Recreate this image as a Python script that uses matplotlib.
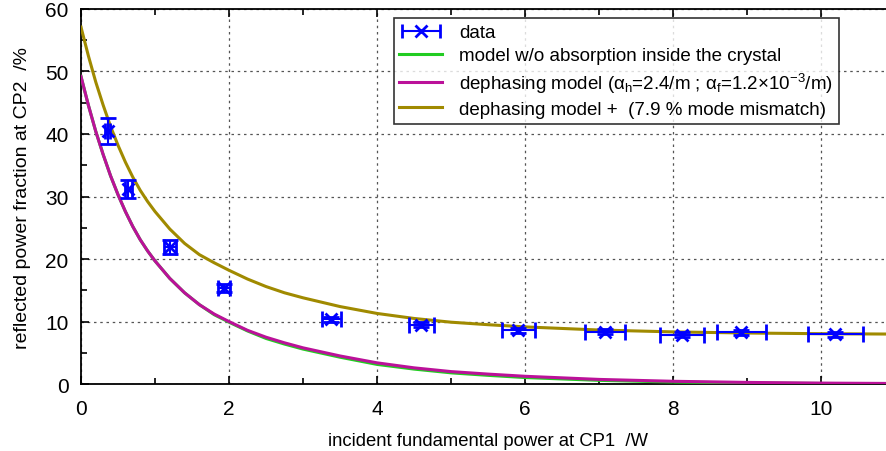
import matplotlib
matplotlib.use("Agg")
import matplotlib.pyplot as plt
from matplotlib.ticker import MultipleLocator
from matplotlib.legend_handler import HandlerErrorbar

plt.rcParams['font.family'] = ['Liberation Sans', 'DejaVu Sans']
plt.rcParams['mathtext.fontset'] = 'custom'
plt.rcParams['mathtext.rm'] = 'Liberation Sans'
plt.rcParams['mathtext.it'] = 'Liberation Sans'

# measured data (power /W, reflected fraction /%)
data_x = [0.36, 0.64, 1.20, 1.93, 3.38, 4.60, 5.91, 7.08, 8.12, 8.92, 10.19]
data_y = [40.5, 31.2, 21.9, 15.4, 10.4, 9.5, 8.6, 8.4, 7.9, 8.3, 8.0]
data_xerr = [0.03, 0.05, 0.08, 0.08, 0.13, 0.17, 0.22, 0.27, 0.30, 0.33, 0.37]
data_yerr = [2.1, 1.5, 1.1, 0.6, 0.4, 0.4, 0.4, 0.4, 0.4, 0.4, 0.4]

# model curves
model_x = [0, 0.1, 0.2, 0.3, 0.4, 0.5, 0.6, 0.7, 0.8, 0.9, 1.0, 1.2, 1.4, 1.6,
           1.8, 2.0, 2.25, 2.5, 2.75, 3.0, 3.5, 4.0, 4.5, 5.0, 5.5, 6.0, 7.0,
           8.0, 9.0, 10.0, 11.0]
noabs_y = [49.2, 44.6, 40.4, 36.7, 33.3, 30.3, 27.6, 25.2, 23.1, 21.3, 19.7,
           16.9, 14.6, 12.7, 11.1, 9.9, 8.5, 7.3, 6.4, 5.6, 4.3, 3.15, 2.4, 1.8,
           1.4, 1.05, 0.6, 0.33, 0.18, 0.1, 0.05]
deph_y = [49.2, 44.6, 40.4, 36.7, 33.3, 30.3, 27.6, 25.2, 23.1, 21.3, 19.7,
          16.9, 14.6, 12.7, 11.2, 10.0, 8.6, 7.5, 6.6, 5.8, 4.5, 3.4, 2.6, 2.0,
          1.6, 1.25, 0.75, 0.45, 0.27, 0.16, 0.1]
mm_y = [57.1, 52.5, 48.3, 44.6, 41.2, 38.2, 35.5, 33.1, 31.0, 29.2, 27.6, 24.8,
        22.5, 20.7, 19.4, 18.2, 16.8, 15.6, 14.6, 13.8, 12.4, 11.3, 10.5, 9.9,
        9.5, 9.15, 8.65, 8.35, 8.17, 8.06, 8.0]

fig = plt.figure(figsize=(8.87, 4.52), dpi=100)
ax = fig.add_axes([0.0913, 0.148, 0.918, 0.830])

ax.plot(model_x, noabs_y, color='#22cc22', lw=2.2,
        label='model w/o absorption inside the crystal', zorder=3)
ax.plot(model_x, deph_y, color='#bb1199', lw=2.2,
        label=r'dephasing model ($\alpha_\mathrm{h}$=2.4/m ; $\alpha_\mathrm{f}$=1.2$\times$10$^{-3}$/m)',
        zorder=4)
ax.plot(model_x, mm_y, color='#a08a00', lw=2.2,
        label='dephasing model +  (7.9 % mode mismatch)', zorder=4)
ax.errorbar(data_x, data_y, xerr=data_xerr, yerr=data_yerr, fmt='x',
            color='#0000ff', ms=9, mew=2, elinewidth=1.5, capsize=6,
            capthick=1.5, zorder=5)
# legend proxy: gnuplot-style key shows the marker with a horizontal bar only
data_key = ax.errorbar([float('nan')], [float('nan')], xerr=[1.0], fmt='x',
                       color='#0000ff', ms=9, mew=2, elinewidth=1.5,
                       capsize=5, capthick=1.5)

ax.set_xlim(0, 11)
ax.set_ylim(0, 60)
ax.xaxis.set_major_locator(MultipleLocator(2))
ax.xaxis.set_minor_locator(MultipleLocator(1))
ax.yaxis.set_major_locator(MultipleLocator(10))
ax.yaxis.set_minor_locator(MultipleLocator(5))
ax.tick_params(which='both', direction='in', top=True, right=False,
               labelsize=15, width=1.2)
ax.tick_params(which='major', length=6)
ax.tick_params(axis='x', which='major', pad=11)
ax.tick_params(axis='y', which='major', pad=9)
ax.tick_params(which='minor', length=4)
ax.grid(True, which='major', ls=(0, (2, 3)), color='#555555', lw=0.9)
for s in ax.spines.values():
    s.set_linewidth(1.3)

ax.set_xlabel('incident fundamental power at CP1  /W', fontsize=13.3, labelpad=10)
ax.set_ylabel('reflected power fraction at CP2  /%', fontsize=14, labelpad=10)

handles, labels = ax.get_legend_handles_labels()
leg = ax.legend([data_key] + handles[:3], ['data'] + labels[:3],
                handler_map={type(data_key): HandlerErrorbar(xerr_size=1.0)},
                loc='upper left', bbox_to_anchor=(0.384, 0.975), fontsize=13.5,
                frameon=True, fancybox=False, edgecolor='black',
                borderpad=0.3, labelspacing=0.33, handlelength=2.3,
                handletextpad=0.9, borderaxespad=0)
leg.get_frame().set_linewidth(1.2)
leg.set_zorder(10)

fig.savefig('out.png', dpi=100, facecolor='white')
